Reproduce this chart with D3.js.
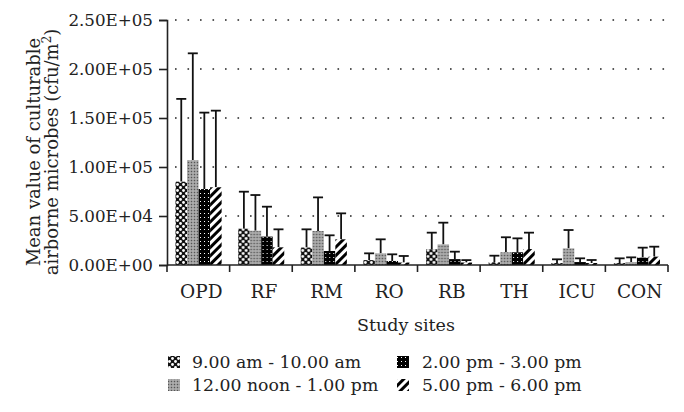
<!DOCTYPE html>
<html><head><meta charset="utf-8">
<script src="https://cdn.jsdelivr.net/npm/d3@7"></script>
<style>body{margin:0;background:#fff}svg{display:block}text{font-family:"DejaVu Serif",serif;fill:#222}</style>
</head><body><svg id="c" width="684" height="412"></svg>
<script>
const categories = ["OPD","RF","RM","RO","RB","TH","ICU","CON"];
const seriesNames = ["9.00 am - 10.00 am","12.00 noon - 1.00 pm","2.00 pm - 3.00 pm","5.00 pm - 6.00 pm"];
const means9  = [85000, 37000, 17800, 5000, 16000, 2700, 2000, 2000];
const means12 = [107000, 35000, 34700, 11900, 21000, 13000, 17000, 3000];
const means2  = [77500, 29000, 14300, 4100, 6000, 13000, 3000, 7500];
const means5  = [79300, 18000, 26200, 2500, 2500, 16300, 2000, 8500];
const upper9  = [169500, 74800, 36400, 11900, 33000, 9500, 5800, 6800];
const upper12 = [216000, 71400, 69000, 26200, 43200, 28300, 35700, 7800];
const upper2  = [155500, 59500, 30300, 10900, 13600, 27200, 6800, 17700];
const upper5  = [157500, 36400, 52700, 9200, 5000, 33000, 5100, 18700];
const yTicks = [0, 50000, 100000, 150000, 200000, 250000];
const yTickLabels = ["0.00E+00","5.00E+04","1.00E+05","1.50E+05","2.00E+05","2.50E+05"];

const means = [means9, means12, means2, means5];
const uppers = [upper9, upper12, upper2, upper5];

const svg = d3.select("#c");
const L = 167, R = 668, T = 20, B = 265;
const x = d3.scaleBand().domain(categories).range([L, R]).paddingInner(0).paddingOuter(0);
const x1 = d3.scaleBand().domain(d3.range(4)).range([8.5, x.bandwidth() - 8]).padding(0);
const y = d3.scaleLinear().domain([0, 250000]).range([B, T]);

// patterns
const defs = svg.append("defs");
const p0 = defs.append("pattern").attr("id","p0").attr("width",6).attr("height",6).attr("patternUnits","userSpaceOnUse");
p0.append("rect").attr("width",6).attr("height",6).attr("fill","#111");
p0.append("circle").attr("cx",1.5).attr("cy",1.5).attr("r",1.4).attr("fill","#fff");
p0.append("circle").attr("cx",4.5).attr("cy",4.5).attr("r",1.4).attr("fill","#fff");
const p1 = defs.append("pattern").attr("id","p1").attr("width",3).attr("height",3).attr("patternUnits","userSpaceOnUse");
p1.append("rect").attr("width",3).attr("height",3).attr("fill","#9a9a9a");
p1.append("rect").attr("x",0).attr("y",0).attr("width",1).attr("height",1).attr("fill","#555");
p1.append("rect").attr("x",1.5).attr("y",1.5).attr("width",1).attr("height",1).attr("fill","#ddd");
const p2 = defs.append("pattern").attr("id","p2").attr("width",4).attr("height",4).attr("patternUnits","userSpaceOnUse");
p2.append("rect").attr("width",4).attr("height",4).attr("fill","#000");
p2.append("rect").attr("x",1).attr("y",1).attr("width",1).attr("height",1).attr("fill","#fff");
const p3 = defs.append("pattern").attr("id","p3").attr("width",6).attr("height",6).attr("patternUnits","userSpaceOnUse").attr("patternTransform","rotate(45)");
p3.append("rect").attr("width",6).attr("height",6).attr("fill","#fff");
p3.append("rect").attr("x",0).attr("width",3).attr("height",6).attr("fill","#000");
const fills = ["url(#p0)","url(#p1)","url(#p2)","url(#p3)"];

// gridlines
svg.append("g").selectAll("line").data(yTicks.filter(d => d > 0)).join("line")
  .attr("x1", L + 8).attr("x2", R).attr("y1", d => y(d)).attr("y2", d => y(d))
  .attr("stroke","#222").attr("stroke-width",1.6).attr("stroke-dasharray","1.6,10.9");

// bars
const groups = svg.append("g").selectAll("g").data(categories).join("g")
  .attr("transform", d => `translate(${x(d)},0)`);
groups.each(function(cat, ci) {
  const g = d3.select(this);
  for (let s = 0; s < 4; s++) {
    const v = means[s][ci], u = uppers[s][ci];
    const bx = x1(s), bw = x1.bandwidth();
    const cx = bx + bw / 2;
    g.append("line").attr("x1",cx).attr("x2",cx).attr("y1",y(v)).attr("y2",y(u)).attr("stroke","#111").attr("stroke-width",1.8);
    g.append("line").attr("x1",cx-5).attr("x2",cx+5).attr("y1",y(u)).attr("y2",y(u)).attr("stroke","#111").attr("stroke-width",1.8);
    g.append("rect").attr("x",bx).attr("y",y(v)).attr("width",bw).attr("height",y(0)-y(v))
      .attr("fill",fills[s]);
  }
});

// y axis
const yAxis = d3.axisLeft(y).tickValues(yTicks).tickFormat((d,i) => yTickLabels[i]).tickSize(8).tickPadding(6);
const ya = svg.append("g").attr("transform",`translate(${L},0)`).call(yAxis);
ya.select(".domain").attr("stroke","#222").attr("stroke-width",1.6);
ya.selectAll(".tick line").attr("stroke","#222").attr("stroke-width",1.6);
ya.selectAll(".tick text").style("font-family","DejaVu Serif").style("font-size","16.7px").attr("fill","#222");

// x axis
const xa = svg.append("g").attr("transform",`translate(0,${B})`);
xa.append("line").attr("x1",L).attr("x2",R).attr("y1",0).attr("y2",0).attr("stroke","#222").attr("stroke-width",1.6);
const bounds = categories.map(c => x(c)).concat([x(categories[categories.length-1]) + x.bandwidth()]);
xa.selectAll("line.tk").data(bounds).join("line").attr("class","tk")
  .attr("x1",d=>d).attr("x2",d=>d).attr("y1",0).attr("y2",7).attr("stroke","#222").attr("stroke-width",1.6);
xa.selectAll("text").data(categories).join("text")
  .attr("x", d => x(d) + x.bandwidth()/2 + 3).attr("y", 33).attr("text-anchor","middle")
  .style("font-size","18.5px").text(d => d);

svg.append("text").attr("x",406).attr("y",331).attr("text-anchor","middle").style("font-size","17.5px").text("Study sites");

// y title
const yt = svg.append("text").attr("transform","translate(40,152) rotate(-90)").attr("text-anchor","middle").style("font-size","18px");
yt.append("tspan").attr("x",0).attr("y",0).text("Mean value of culturable");
yt.append("tspan").attr("x",0).attr("y",18).text("airborne microbes (cfu/m");
yt.append("tspan").attr("dy",-7).style("font-size","12px").text("2");
yt.append("tspan").attr("dy",7).text(")");

// legend
const legPos = [[168,368],[168,391],[397,368],[397,391]];
seriesNames.forEach((n, i) => {
  const [lx, ly] = legPos[i];
  svg.append("rect").attr("x",lx).attr("y",ly-12).attr("width",12).attr("height",12).attr("fill",fills[i]);
  svg.append("text").attr("x",i < 2 ? lx+24 : lx+25).attr("y",ly).style("font-size","17.3px").text(n);
});
</script></body></html>
